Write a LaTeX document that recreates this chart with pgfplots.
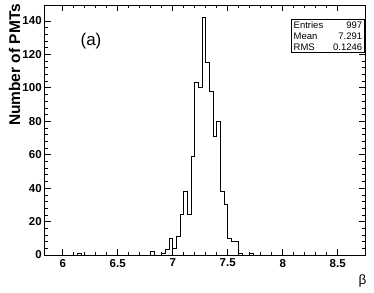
\documentclass[border=0pt]{standalone}
\usepackage{fontspec}
\setmainfont{Liberation Sans}
\usepackage{pgfplots}
\pgfplotsset{compat=1.18}
\begin{document}
\begin{tikzpicture}
\begin{axis}[
  at={(0pt,0pt)}, anchor=south west,
  scale only axis, width=320.6pt, height=250pt,
  xmin=5.836, xmax=8.751, ymin=0, ymax=149.5,
  xtick={6,6.5,7,7.5,8,8.5}, ytick={0,20,40,60,80,100,120,140},
  minor x tick num=4, minor y tick num=4,
  tick align=inside, xtick pos=both, ytick pos=both,
  xticklabel pos=lower, yticklabel pos=left,
  major tick length=6pt, minor tick length=3pt,
  tick style={black, line width=0.6pt},
  axis line style={black, line width=0.8pt},
  /pgf/number format/assume math mode=true,
  ticklabel style={font=\bfseries\fontsize{11.5}{13}\selectfont},
  xticklabel style={yshift=-0.5pt},
  yticklabel style={xshift=0.5pt},
  ylabel={Number of PMTs},
  ylabel style={font=\bfseries\fontsize{15.5}{18}\selectfont, at={(axis description cs:-0.094,1.005)}, anchor=east, inner sep=0pt},
  xlabel={β},
  xlabel style={font=\fontsize{13.5}{15}\selectfont, at={(axis description cs:1.004,0)}, anchor=north east, inner sep=0pt, yshift=-20pt},
  clip=false,
]
\addplot[const plot mark left, black, line width=1pt, mark=none] coordinates {
(6.0000,0) (6.1333,1) (6.1667,0)
(6.8000,2) (6.8333,0)
(6.9000,1) (6.9333,3) (6.9667,10) (7.0000,4) (7.0333,11)
(7.0667,24) (7.1000,38) (7.1333,24) (7.1667,59) (7.2000,103)
(7.2333,100) (7.2667,142) (7.3000,115) (7.3333,98) (7.3667,71)
(7.4000,80) (7.4333,38) (7.4667,30) (7.5000,10) (7.5333,8)
(7.5667,8) (7.6000,1) (7.6333,0)
(7.7000,1) (7.7333,0) (8.0000,0)
};
\node[font=\fontsize{17}{19}\selectfont, inner sep=0pt] at (axis description cs:0.1444,0.856) {(a)};
\draw[black, line width=0.6pt, fill=white] (axis description cs:0.7704,0.8092) rectangle (axis description cs:0.9955,0.9428);
\begin{scope}[font=\fontsize{9.5}{11}\selectfont]
\node[anchor=west, inner sep=0pt] at (axis description cs:0.776,0.920) {Entries};
\node[anchor=east, inner sep=0pt] at (axis description cs:0.991,0.920) {997};
\node[anchor=west, inner sep=0pt] at (axis description cs:0.776,0.876) {Mean};
\node[anchor=east, inner sep=0pt] at (axis description cs:0.991,0.876) {7.291};
\node[anchor=west, inner sep=0pt] at (axis description cs:0.776,0.833) {RMS};
\node[anchor=east, inner sep=0pt] at (axis description cs:0.991,0.833) {0.1246};
\end{scope}
\end{axis}
\pgfresetboundingbox
\path (-44.7pt,-37pt) rectangle (329.3pt,255pt);
\end{tikzpicture}
\end{document}
